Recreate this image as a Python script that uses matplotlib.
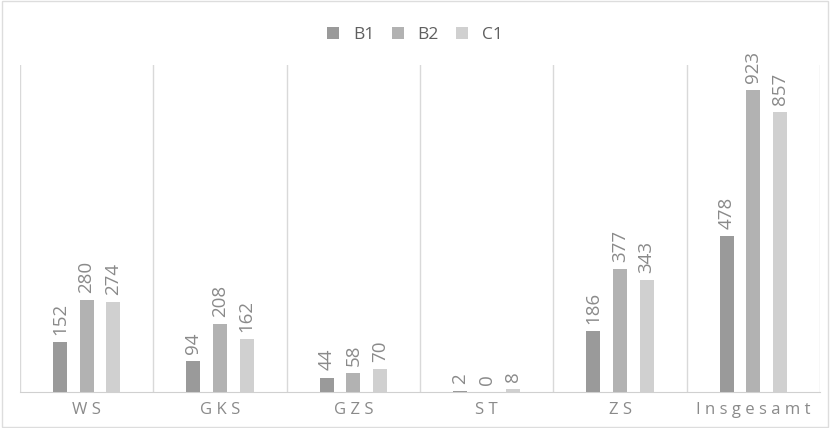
import numpy as np
import matplotlib.pyplot as plt
from matplotlib.patches import Rectangle

categories = ["WS", "GKS", "GZS", "ST", "ZS", "Insgesamt"]
b1 = [152, 94, 44, 2, 186, 478]
b2 = [280, 208, 58, 0, 377, 923]
c1 = [274, 162, 70, 8, 343, 857]

series = [("B1", b1, "#9a9a9a"), ("B2", b2, "#b2b2b2"), ("C1", c1, "#d0d0d0")]
text_color = "#8a8a8a"

plt.rcParams["font.family"] = ["Open Sans", "DejaVu Sans"]

fig = plt.figure(figsize=(8.3, 4.28), dpi=100)
ax = fig.add_axes([0.024, 0.084, 0.964, 0.764])

x = np.arange(len(categories))
width = 0.105
offsets = [-0.2, 0.0, 0.2]

for (name, vals, color), off in zip(series, offsets):
    bars = ax.bar(x + off, vals, width, color=color, label=name, zorder=3)
    for rect, v in zip(bars, vals):
        ax.text(rect.get_x() + rect.get_width() / 2, v + 22, str(v),
                rotation=90, ha="center", va="bottom",
                fontsize=13.5, color=text_color)

ax.set_xlim(-0.5, len(categories) - 0.5)
ax.set_ylim(0, 1000)

# separators between the category groups
for b in np.arange(-0.5, len(categories), 1.0):
    ax.axvline(b, color="#d9d9d9", lw=1, zorder=1)

for s in ["top", "left", "right"]:
    ax.spines[s].set_visible(False)
ax.spines["bottom"].set_color("#d0d0d0")
ax.set_yticks([])
ax.set_xticks(x)
ax.set_xticklabels([" ".join(c) for c in categories],
                   fontsize=12, color=text_color)
ax.tick_params(axis="x", length=0, pad=7)

fig.legend(loc="center", bbox_to_anchor=(0.5, 0.918), ncol=3, frameon=False,
           fontsize=12.5, handlelength=0.7, handleheight=0.7,
           handletextpad=0.8, columnspacing=1.0, labelcolor="#5f5f5f")

# light frame around the figure
fig.patches.append(Rectangle((0.003, 0.003), 0.994, 0.994, transform=fig.transFigure,
                             fill=False, edgecolor="#dddddd", lw=1))

fig.savefig("out.png", dpi=100)
